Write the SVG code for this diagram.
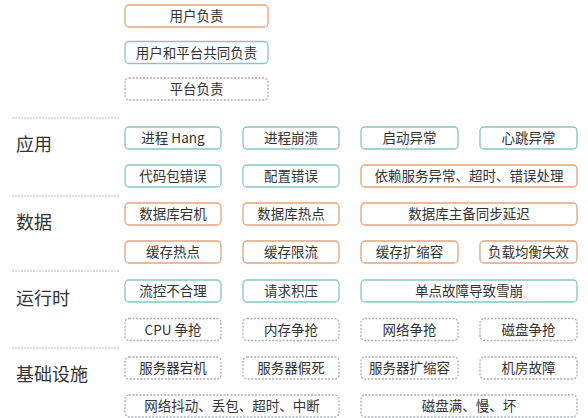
<svg xmlns="http://www.w3.org/2000/svg" width="588" height="418" viewBox="0 0 588 418">
<style>
text{font-family:"Noto Sans CJK SC","Noto Sans",sans-serif;fill:#333}
.t{font-size:13.5px;text-anchor:middle}
.lab{font-size:18px}
rect{fill:#fff;stroke-width:1.3}
.o{stroke:#e2a47c}
.g{stroke:#86c6c3}
.d{stroke:#aab0b0;stroke-dasharray:2 1.5}
.sep{stroke:#b8bcbc;stroke-width:1;stroke-dasharray:2 1}
</style>
<rect x="0" y="0" width="588" height="418" style="fill:#fff;stroke:none"/>
<g id="legend">
<g id="leg-user"><rect class="o" x="125" y="5" width="143" height="22" rx="4"/><text class="t" x="196.5" y="21">用户负责</text></g>
<g id="leg-shared"><rect class="g" x="125" y="41.5" width="143" height="22" rx="4"/><text class="t" x="196.5" y="57.5">用户和平台共同负责</text></g>
<g id="leg-platform"><rect class="d" x="125" y="78" width="143" height="22" rx="4"/><text class="t" x="196.5" y="94">平台负责</text></g>
</g>
<g id="separators">
<line class="sep" x1="12" y1="118" x2="120" y2="118"/>
<line class="sep" x1="12" y1="196" x2="120" y2="196"/>
<line class="sep" x1="12" y1="271" x2="120" y2="271"/>
<line class="sep" x1="12" y1="348" x2="120" y2="348"/>
</g>
<g id="labels">
<text class="lab" x="16" y="151">应用</text>
<text class="lab" x="16" y="228.5">数据</text>
<text class="lab" x="16" y="304.5">运行时</text>
<text class="lab" x="16" y="380.5">基础设施</text>
</g>
<g id="app">
<g id="n1"><rect class="g" x="125" y="127" width="96" height="22" rx="4"/><text class="t" x="173" y="143">进程 Hang</text></g>
<g id="n2"><rect class="g" x="243" y="127" width="96" height="22" rx="4"/><text class="t" x="291" y="143">进程崩溃</text></g>
<g id="n3"><rect class="g" x="361" y="127" width="97" height="22" rx="4"/><text class="t" x="409.5" y="143">启动异常</text></g>
<g id="n4"><rect class="g" x="480" y="127" width="97" height="22" rx="4"/><text class="t" x="528.5" y="143">心跳异常</text></g>
<g id="n5"><rect class="g" x="125" y="165" width="96" height="22" rx="4"/><text class="t" x="173" y="181">代码包错误</text></g>
<g id="n6"><rect class="g" x="243" y="165" width="96" height="22" rx="4"/><text class="t" x="291" y="181">配置错误</text></g>
<g id="n7"><rect class="o" x="361" y="165" width="216" height="22" rx="4"/><text class="t" x="469" y="181">依赖服务异常、超时、错误处理</text></g>
</g>
<g id="data">
<g id="n8"><rect class="o" x="125" y="203" width="96" height="22" rx="4"/><text class="t" x="173" y="219">数据库宕机</text></g>
<g id="n9"><rect class="o" x="243" y="203" width="96" height="22" rx="4"/><text class="t" x="291" y="219">数据库热点</text></g>
<g id="n10"><rect class="o" x="361" y="203" width="216" height="22" rx="4"/><text class="t" x="469" y="219">数据库主备同步延迟</text></g>
<g id="n11"><rect class="o" x="125" y="241" width="96" height="22" rx="4"/><text class="t" x="173" y="257">缓存热点</text></g>
<g id="n12"><rect class="o" x="243" y="241" width="96" height="22" rx="4"/><text class="t" x="291" y="257">缓存限流</text></g>
<g id="n13"><rect class="o" x="361" y="241" width="97" height="22" rx="4"/><text class="t" x="409.5" y="257">缓存扩缩容</text></g>
<g id="n14"><rect class="o" x="480" y="241" width="97" height="22" rx="4"/><text class="t" x="528.5" y="257">负载均衡失效</text></g>
</g>
<g id="runtime">
<g id="n15"><rect class="g" x="125" y="280" width="96" height="22" rx="4"/><text class="t" x="173" y="296">流控不合理</text></g>
<g id="n16"><rect class="g" x="243" y="280" width="96" height="22" rx="4"/><text class="t" x="291" y="296">请求积压</text></g>
<g id="n17"><rect class="g" x="361" y="280" width="216" height="22" rx="4"/><text class="t" x="469" y="296">单点故障导致雪崩</text></g>
<g id="n18"><rect class="d" x="125" y="318.5" width="96" height="22" rx="4"/><text class="t" x="173" y="334.5">CPU 争抢</text></g>
<g id="n19"><rect class="d" x="243" y="318.5" width="96" height="22" rx="4"/><text class="t" x="291" y="334.5">内存争抢</text></g>
<g id="n20"><rect class="d" x="361" y="318.5" width="97" height="22" rx="4"/><text class="t" x="409.5" y="334.5">网络争抢</text></g>
<g id="n21"><rect class="d" x="480" y="318.5" width="97" height="22" rx="4"/><text class="t" x="528.5" y="334.5">磁盘争抢</text></g>
</g>
<g id="infra">
<g id="n22"><rect class="d" x="125" y="357" width="96" height="22" rx="4"/><text class="t" x="173" y="373">服务器宕机</text></g>
<g id="n23"><rect class="d" x="243" y="357" width="96" height="22" rx="4"/><text class="t" x="291" y="373">服务器假死</text></g>
<g id="n24"><rect class="d" x="361" y="357" width="97" height="22" rx="4"/><text class="t" x="409.5" y="373">服务器扩缩容</text></g>
<g id="n25"><rect class="d" x="480" y="357" width="97" height="22" rx="4"/><text class="t" x="528.5" y="373">机房故障</text></g>
<g id="n26"><rect class="d" x="125" y="395" width="214" height="22" rx="4"/><text class="t" x="232" y="411">网络抖动、丢包、超时、中断</text></g>
<g id="n27"><rect class="d" x="361" y="395" width="216" height="22" rx="4"/><text class="t" x="469" y="411">磁盘满、慢、坏</text></g>
</g>
<g id="connectors"></g>
</svg>
